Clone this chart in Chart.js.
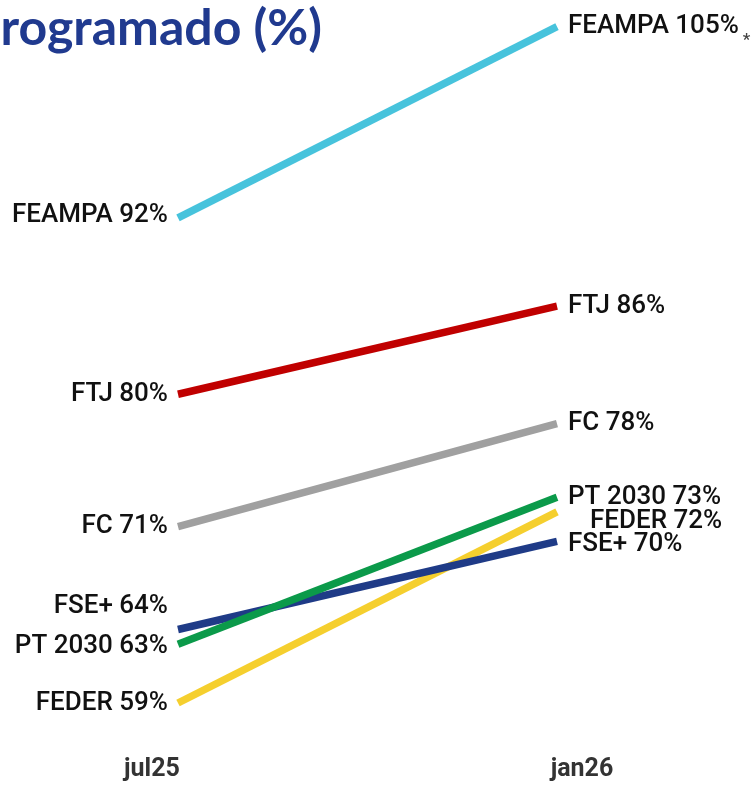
<!DOCTYPE html>
<html>
<head>
<meta charset="utf-8">
<script src="https://cdn.jsdelivr.net/npm/chart.js@4"></script>
<style>
    html, body { margin: 0; padding: 0; background: #fff; overflow: hidden; }
    #wrap { position: relative; width: 752px; height: 787px; }
    #title {
        position: absolute;
        right: 430px;
        top: 1px;
        white-space: nowrap;
        font-family: Lato, sans-serif;
        font-weight: 700;
        font-size: 50px;
        line-height: 1;
        color: #203a8f;
    }
</style>
</head>
<body>
<div id="wrap">
    <canvas id="chart"></canvas>
    <div id="title">programado (%)</div>
</div>
<script>
// Slope chart: jul25 -> jan26 per fund
const periods = ['jul25', 'jan26'];
const funds = ['FEAMPA', 'FTJ', 'FC', 'PT 2030', 'FSE+', 'FEDER'];
const jul25 = [92, 80, 71, 63, 64, 59];
const jan26 = [105, 86, 78, 73, 70, 72];

const fundColors = ['#47c3dc', '#c00000', '#a0a0a0', '#0b9a4a', '#1f3b87', '#f5cf2e'];

// label nudges [left dy, right dx, right dy] so overlapping labels stay readable
const labelNudge = {
    'FEAMPA': [-2, 0, 0],
    'FTJ': [0, 0, 0],
    'FC': [0, 0, 0],
    'PT 2030': [2, 0, 0],
    'FSE+': [-23, 0, 3],
    'FEDER': [0, 22, 10]
};

const endLabels = {
    id: 'endLabels',
    afterDatasetsDraw(chart) {
        const ctx = chart.ctx;
        ctx.save();
        ctx.font = '500 26px Roboto';
        ctx.fillStyle = '#111';
        ctx.textBaseline = 'middle';
        chart.data.datasets.forEach((ds, i) => {
            const meta = chart.getDatasetMeta(i);
            const p0 = meta.data[0];
            const p1 = meta.data[1];
            const nudge = labelNudge[funds[i]];
            ctx.textAlign = 'right';
            ctx.fillText(funds[i] + ' ' + jul25[i] + '%', p0.x - 10, p0.y + nudge[0]);
            ctx.textAlign = 'left';
            const txt = funds[i] + ' ' + jan26[i] + '%';
            ctx.fillText(txt, p1.x + 11 + nudge[1], p1.y + nudge[2]);
            if (funds[i] === 'FEAMPA') {
                const w = ctx.measureText(txt).width;
                ctx.font = '500 17px Roboto';
                ctx.fillStyle = '#444';
                ctx.fillText('*', p1.x + 11 + w + 4, p1.y + 14);
                ctx.font = '500 26px Roboto';
                ctx.fillStyle = '#111';
            }
        });
        ctx.restore();
    }
};

new Chart(document.getElementById('chart'), {
    type: 'line',
    data: {
        datasets: funds.map((f, i) => ({
            label: f,
            data: [{ x: 0, y: jul25[i] }, { x: 1, y: jan26[i] }],
            borderColor: fundColors[i],
            borderWidth: 7.5,
            pointRadius: 0,
            fill: false,
            tension: 0
        }))
    },
    options: {
        responsive: true,
        maintainAspectRatio: false,
        animation: false,
        layout: {
            padding: { left: 152, right: 170, top: 12, bottom: 0 }
        },
        plugins: {
            legend: { display: false },
            tooltip: { enabled: false }
        },
        scales: {
            x: {
                type: 'linear',
                min: -0.0686,
                max: 1.066,
                afterBuildTicks: axis => {
                    axis.ticks = [{ value: axis.min }, { value: axis.max }];
                },
                grid: { display: false, drawTicks: false },
                border: { display: false },
                ticks: {
                    padding: 4.5,
                    color: '#333',
                    font: { family: 'Roboto', size: 25, weight: 'bold', lineHeight: 1 },
                    maxRotation: 0,
                    autoSkip: false,
                    callback: (v, i) => periods[i]
                }
            },
            y: {
                display: false,
                min: 55.6,
                max: 106
            }
        }
    },
    plugins: [endLabels]
});
</script>
</body>
</html>
